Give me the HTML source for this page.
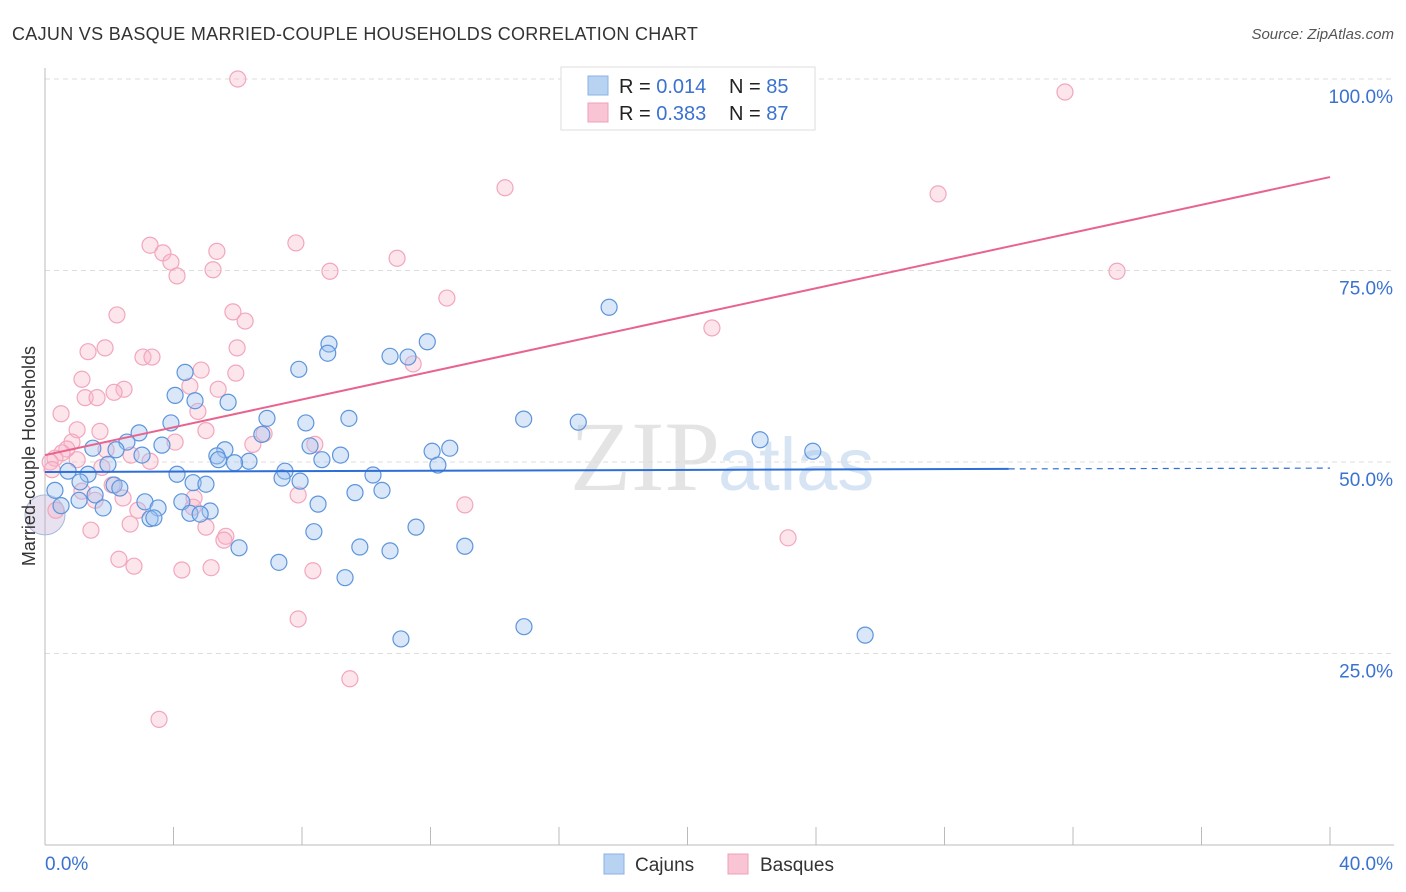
<!DOCTYPE html>
<html><head><meta charset="utf-8"><style>
body{margin:0;background:#fff;font-family:"Liberation Sans",sans-serif;}
svg{display:block}
</style></head><body>
<svg id="chart" width="1406" height="892">
<text x="12" y="40" font-size="18" fill="#333" letter-spacing="0.3">CAJUN VS BASQUE MARRIED-COUPLE HOUSEHOLDS CORRELATION CHART</text>
<text x="1394" y="39" font-size="15" fill="#555" font-style="italic" text-anchor="end">Source: ZipAtlas.com</text>
<text x="720" y="490" font-size="100" fill="#e4e4e4" text-anchor="end" font-family="Liberation Serif,serif">ZIP</text>
<text x="718" y="490" font-size="74" fill="#d6e4f4">atlas</text>
<g id="grid"></g>
<g id="marks"></g>
<text transform="translate(35,456) rotate(-90)" font-size="18" fill="#333" text-anchor="middle">Married-couple Households</text>
<g>
<rect x="561" y="67" width="254" height="63" fill="#fff" stroke="#ddd"/>
<rect x="588" y="76" width="20" height="19" fill="#b8d2f2" stroke="#8ab2e6"/>
<rect x="588" y="103" width="20" height="19" fill="#f9c4d4" stroke="#f0a0b8"/>
<text x="619" y="93" font-size="20" fill="#222">R = <tspan fill="#3a72d0">0.014</tspan><tspan x="729">N = </tspan><tspan fill="#3a72d0">85</tspan></text>
<text x="619" y="120" font-size="20" fill="#222">R = <tspan fill="#3a72d0">0.383</tspan><tspan x="729">N = </tspan><tspan fill="#3a72d0">87</tspan></text>
</g>
<g>
<rect x="604" y="854" width="20" height="20" fill="#b8d2f2" stroke="#8ab2e6"/>
<text x="635" y="871" font-size="19" fill="#333">Cajuns</text>
<rect x="728" y="854" width="20" height="20" fill="#f9c4d4" stroke="#f0a0b8"/>
<text x="760" y="871" font-size="19" fill="#333">Basques</text>
</g>
</svg>
<script>
const yTicks=[25,50,75,100];
const yTickLabels=["25.0%","50.0%","75.0%","100.0%"];
const xTicks=[0,4,8,12,16,20,24,28,32,36,40];
const cajunX=[17.56,11.9,8.84,8.8,10.74,11.3,7.9,4.36,4.05,5.7,4.67,6.91,9.46,14.9,16.6,3.92,8.12,2.93,6.75,2.55,3.64,8.25,22.26,23.9,12.6,12.05,1.49,2.21,3.02,5.6,5.35,5.4,6.35,5.9,9.2,8.62,1.96,0.72,1.34,4.11,7.47,10.21,12.23,7.38,7.94,0.31,1.09,2.15,2.33,4.61,5.01,9.65,10.49,1.56,1.06,3.11,4.26,8.5,0.5,1.81,3.52,4.51,5.14,4.83,3.27,3.39,11.55,8.37,9.8,6.04,10.74,13.07,7.28,9.34,11.08,14.91,25.53];
const cajunY=[70.2,65.7,65.4,64.2,63.8,63.7,62.1,61.7,58.7,57.8,58,55.7,55.7,55.6,55.2,55.1,55.1,53.8,53.6,52.6,52.2,52.1,52.9,51.4,51.8,51.4,51.8,51.6,50.9,51.6,50.8,50.3,50.1,49.9,50.9,50.3,49.7,48.8,48.4,48.4,48.8,48.3,49.6,47.9,47.5,46.3,47.4,47,46.6,47.3,47.1,46,46.3,45.7,45,44.8,44.8,44.5,44.3,44,44,43.3,43.6,43.2,42.6,42.7,41.5,40.9,38.9,38.8,38.4,39,36.9,34.9,26.9,28.5,27.4];
const basqueX=[6,31.75,14.32,27.8,3.27,7.81,3.67,5.35,3.92,10.96,5.23,8.87,4.11,33.37,12.51,5.85,2.24,6.23,20.76,5.98,1.87,1.34,3.05,3.33,11.46,4.86,5.94,1.15,4.51,5.39,2.46,2.15,1.25,1.62,4.76,0.5,5.01,1.0,1.71,6.82,4.05,8.4,0.84,0.68,0.53,1.9,2.68,0.31,1.0,0.16,3.27,6.47,1.77,0.22,2.09,1.15,7.88,4.64,2.43,1.56,4.61,13.07,2.89,0.34,5.01,2.65,1.43,5.63,5.57,23.13,2.3,2.77,4.26,5.17,8.34,7.88,9.49,3.55];
const basqueY=[100,98.3,85.8,85,78.3,78.6,77.3,77.5,76.1,76.6,75.1,74.9,74.3,74.9,71.4,69.6,69.2,68.4,67.5,64.9,64.9,64.4,63.7,63.7,62.8,62,61.6,60.8,59.9,59.5,59.5,59.1,58.4,58.4,56.6,56.3,54.1,54.2,54,53.7,52.6,52.3,52.6,51.7,51.2,51.6,50.9,50.5,50.3,50,50.1,52.3,49.3,49,47,46.2,45.7,45.3,45.3,45,44.1,44.4,43.7,43.7,41.5,41.9,41.1,40.3,39.8,40.1,37.3,36.4,35.9,36.2,35.8,29.5,21.7,16.4];
const cajunTrend=[[0,48.7],[30,49.1]];
const cajunTrendDash=[[30,49.1],[40,49.2]];
const basqueTrend=[[0,50.9],[40,87.2]];
const NS="http://www.w3.org/2000/svg";
const X=v=>45+v*(1330-45)/40;
const Y=v=>845-v*7.66;
function mk(tag,attrs,parent){const e=document.createElementNS(NS,tag);for(const k in attrs)e.setAttribute(k,attrs[k]);parent.appendChild(e);return e;}
const grid=document.getElementById('grid'),marks=document.getElementById('marks');
yTicks.forEach((t,i)=>{
 const l=mk('line',{x1:45,x2:1394,y1:Y(t),y2:Y(t),stroke:'#ddd','stroke-dasharray':'5,4'},grid);
 
 
 const tx=mk('text',{x:1393,y:Y(t)+24,'font-size':19,fill:'#3a72d0','text-anchor':'end'},grid);
 tx.textContent=yTickLabels[i];
 
 
});
const ax=mk('line',{x1:45,x2:45,y1:68,y2:845,stroke:'#bbb'},grid);


const bx=mk('line',{x1:45,x2:1394,y1:845,y2:845,stroke:'#bbb'},grid);


xTicks.forEach(t=>{
 const l=mk('line',{x1:X(t),x2:X(t),y1:827,y2:845,stroke:'#bbb'},grid);
 
 
});
const xl0=mk('text',{x:45,y:870,'font-size':19,fill:'#3a72d0'},grid);xl0.textContent='0.0%';


const xl1=mk('text',{x:1393,y:870,'font-size':19,fill:'#3a72d0','text-anchor':'end'},grid);xl1.textContent='40.0%';


// big circle
const big=mk('circle',{cx:X(0),cy:Y(43.1),r:20,fill:'rgba(190,170,210,0.35)',stroke:'#a8b8e0','stroke-width':1},marks);


basqueX.forEach((x,i)=>{
 const c=mk('circle',{cx:X(x),cy:Y(basqueY[i]),r:8,fill:'rgba(248,180,200,0.35)',stroke:'#f2a6bd','stroke-width':1.2},marks);
 
 
});
cajunX.forEach((x,i)=>{
 const c=mk('circle',{cx:X(x),cy:Y(cajunY[i]),r:8,fill:'rgba(160,196,240,0.4)',stroke:'#5d95dc','stroke-width':1.2},marks);
 
 
});
const l1=mk('line',{x1:X(cajunTrend[0][0]),y1:Y(cajunTrend[0][1]),x2:X(cajunTrend[1][0]),y2:Y(cajunTrend[1][1]),stroke:'#2d6fd6','stroke-width':2},marks);


const l2=mk('line',{x1:X(cajunTrendDash[0][0]),y1:Y(cajunTrendDash[0][1]),x2:X(cajunTrendDash[1][0]),y2:Y(cajunTrendDash[1][1]),stroke:'#2d6fd6','stroke-width':1.2,'stroke-dasharray':'6,5'},marks);


const l3=mk('line',{x1:X(basqueTrend[0][0]),y1:Y(basqueTrend[0][1]),x2:X(basqueTrend[1][0]),y2:Y(basqueTrend[1][1]),stroke:'#e8648e','stroke-width':2},marks);


</script>
</body></html>
